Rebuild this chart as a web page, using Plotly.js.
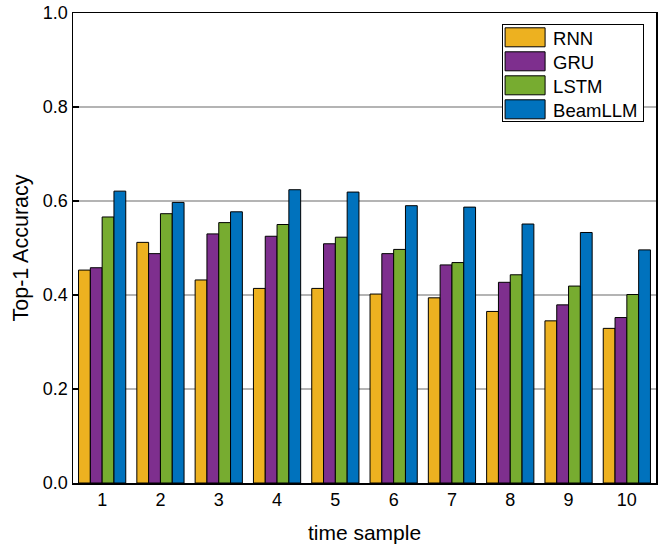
<!DOCTYPE html>
<html>
<head>
<meta charset="utf-8">
<script src="https://cdn.plot.ly/plotly-3.0.1.min.js"></script>
<style>html,body{margin:0;padding:0;background:#fff;}#chart{width:670px;height:548px;}</style>
</head>
<body>
<div id="chart"></div>
<script>
const categories = ['1','2','3','4','5','6','7','8','9','10'];
const seriesNames = ['RNN','GRU','LSTM','BeamLLM'];
const rnn     = [0.453, 0.512, 0.432, 0.414, 0.414, 0.402, 0.394, 0.365, 0.345, 0.329];
const gru     = [0.458, 0.488, 0.530, 0.525, 0.509, 0.488, 0.464, 0.427, 0.379, 0.352];
const lstm    = [0.566, 0.573, 0.554, 0.550, 0.523, 0.497, 0.469, 0.443, 0.419, 0.401];
const beamllm = [0.621, 0.597, 0.577, 0.624, 0.619, 0.590, 0.587, 0.551, 0.533, 0.496];
const colors = ['#EDB120','#7E2F8E','#77AC30','#0072BD'];
const yTicks = [0, 0.2, 0.4, 0.6, 0.8, 1.0];
const yTickLabels = ['0.0','0.2','0.4','0.6','0.8','1.0'];

const xs = categories.map((c,i)=>i+1);
const allSeries = [rnn, gru, lstm, beamllm];
const traces = allSeries.map((vals, k) => ({
  type: 'bar',
  name: seriesNames[k],
  x: xs,
  y: vals,
  marker: {color: colors[k], line: {color: '#000', width: 1}},
  hoverinfo: 'skip'
}));

const font = 'Liberation Sans, Arial, sans-serif';
const layout = {
  width: 670, height: 548,
  margin: {l: 73, r: 14, t: 13, b: 65},
  paper_bgcolor: '#fff', plot_bgcolor: '#fff',
  barmode: 'group', bargap: 0.19, bargroupgap: 0,
  font: {family: font, color: '#000', size: 18},
  showlegend: true,
  legend: {
    x: 0.736, y: 0.977, xanchor: 'left', yanchor: 'top',
    bgcolor: '#fff', bordercolor: '#000', borderwidth: 1,
    font: {family: font, size: 18.5, color: '#000'},
    itemwidth: 40, tracegroupgap: 0
  },
  xaxis: {
    range: [0.5, 10.5],
    tickvals: xs, ticktext: categories,
    ticks: '', showgrid: false, zeroline: false,
    showline: true, linecolor: '#000', linewidth: 1.5, mirror: true,
    tickfont: {family: font, size: 18, color: '#000'},
    title: {text: 'time sample', font: {family: font, size: 21, color: '#000'}, standoff: 16}
  },
  yaxis: {
    range: [0, 1.0],
    tickvals: yTicks, ticktext: yTickLabels,
    ticks: 'inside', ticklen: 6, tickwidth: 1.5, tickcolor: '#000',
    showgrid: true, gridcolor: '#b4b4b4', gridwidth: 1.5, zeroline: false,
    showline: true, linecolor: '#000', linewidth: 1.5, mirror: true,
    tickfont: {family: font, size: 18, color: '#000'},
    title: {text: 'Top-1 Accuracy', font: {family: font, size: 21.5, color: '#000'}, standoff: 8}
  }
};

Plotly.newPlot('chart', traces, layout, {staticPlot: true}).then(() => {
  const root = document.getElementById('chart');
  root.querySelectorAll('.legend .legendpoints path').forEach(p => {
    p.setAttribute('d', 'M17,9.5H-23V-9.5H17Z');
  });
  const items = root.querySelectorAll('.legend .traces');
  const rowH = 24;
  items.forEach((g, i) => {
    const t = g.getAttribute('transform') || '';
    const m = t.match(/translate\(\s*([-\d.]+)[ ,]+([-\d.]+)\s*\)/);
    const x = m ? parseFloat(m[1]) : 0;
    g.setAttribute('transform', 'translate(' + x + ',' + (13.5 + i * rowH) + ')');
  });
  const bg = root.querySelector('.legend rect.bg');
  if (bg) bg.setAttribute('height', String(rowH * items.length + 1));
});
</script>
</body>
</html>
